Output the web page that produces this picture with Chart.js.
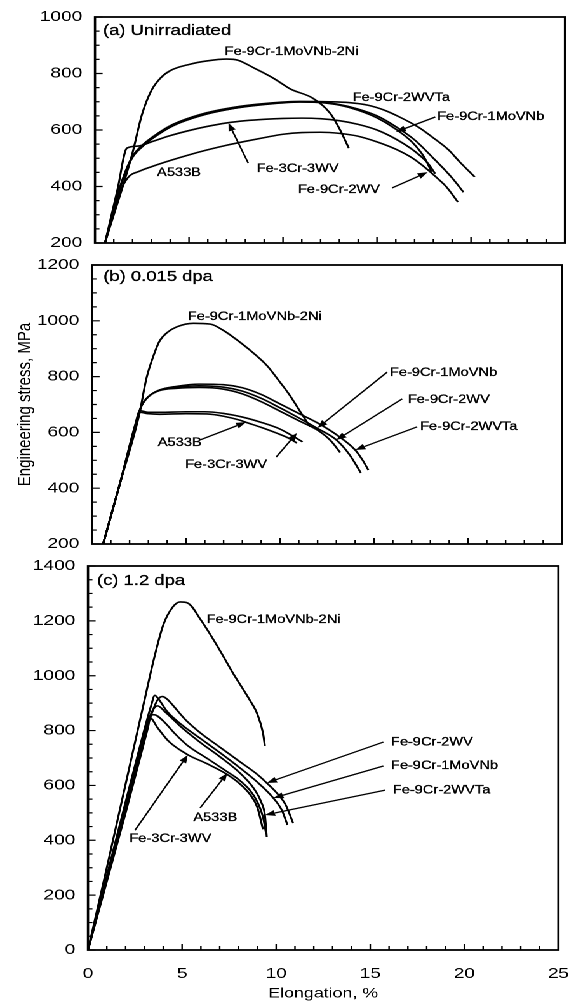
<!DOCTYPE html>
<html>
<head>
<meta charset="utf-8">
<script src="https://cdn.jsdelivr.net/npm/chart.js@4.4.0/dist/chart.umd.min.js"></script>
<style>
  html, body { margin: 0; padding: 0; background: #fff; overflow: hidden; }
  /* the scanned figure is stretched sideways, so the whole drawing is too */
  #wrap { position: absolute; left: 0; top: 0; width: 448px; height: 1002px;
          transform: scaleX(1.27009); transform-origin: 0 0; }
  canvas { position: absolute; left: 0; }
</style>
</head>
<body>
<div id="wrap">
  <canvas id="ca" width="448" height="255" style="top:0px"></canvas>
  <canvas id="cb" width="448" height="301" style="top:254px"></canvas>
  <canvas id="cc" width="448" height="447" style="top:555px"></canvas>
</div>
<script>
// ---- data: [elongation %, engineering stress MPa] ----

// (a) unirradiated
var a_Ni = [[0.53,200],[1.0,300],[1.5,405],[2.0,520],[2.5,655],[3.0,740],[3.5,785],[4.0,810],[5.0,832],[6.0,845],[7.0,851],[7.6,847],[8.5,818],[9.5,783],[10.4,745],[11.6,712],[12.5,660],[13.0,605],[13.5,536]];
var a_WVTa = [[0.53,200],[1.3,392],[1.95,502],[2.5,545],[3.1,577],[4.15,620],[5.6,655],[7.35,680],[9.1,694],[10.9,701],[12.5,700],[13.5,697],[14.5,688],[15.4,670],[16.2,646],[17.2,610],[18.0,572],[18.8,530],[19.4,487],[20.2,434]];
var a_1MoVNb = [[0.53,200],[1.3,390],[1.95,500],[2.5,542],[3.1,574],[4.15,616],[5.6,651],[7.35,676],[9.1,691],[10.9,699],[12,698],[13,690],[14,674],[15,650],[16,612],[17,565],[18,500],[19,430],[19.6,380]];
var a_2WV = [[0.53,200],[1.3,388],[1.95,498],[2.5,540],[3.1,572],[4.15,615],[5.6,650],[7.35,676],[9.1,692],[10.9,700],[12,697],[13,688],[14,670],[15,643],[16,603],[16.9,555],[17.5,505],[17.9,452]];
var a_3Cr3WV = [[0.53,200],[1.2,390],[1.7,536],[2.3,543],[3,558],[4,580],[5,598],[6,613],[7,625],[8,633],[9,638],[10,641],[11,642],[12,640],[13,633],[14,620],[15,600],[16,568],[17,525],[17.7,483],[18.1,445]];
var a_A533B = [[0.53,200],[1.3,375],[1.76,432],[2.4,455],[3,470],[4,492],[5,512],[6,530],[7,546],[8,560],[9,573],[10,585],[11,591],[12,592],[13,588],[14,578],[15,558],[16,532],[16.9,500],[17.6,465],[18.2,430],[18.7,398],[19.3,345]];

// (b) 0.015 dpa
var b_Ni = [[0.59,200],[1.5,420],[2.5,660],[2.9,795],[3.3,880],[3.6,928],[4.0,958],[4.5,978],[5.4,991],[6.3,988],[7.0,965],[7.5,942],[8.4,895],[9.3,840],[10.0,780],[10.5,735],[11.1,672],[11.6,620]];
var b_WVTa = [[0.59,200],[1.5,420],[2.3,620],[2.6,690],[3.0,728],[3.6,752],[4.5,765],[5.7,773],[7,771],[8,760],[9,736],[10,702],[11,668],[12,634],[13,592],[14,537],[14.4,500],[14.7,465]];
var b_2WV = [[0.59,200],[1.5,420],[2.3,620],[2.6,690],[3.0,728],[3.6,752],[4.5,762],[5.7,767],[7,762],[8,748],[9,722],[10,688],[11,652],[12,614],[13,573],[13.7,520],[14.3,455]];
var b_1MoVNb = [[0.59,200],[1.5,420],[2.3,620],[2.6,690],[3.0,728],[3.6,750],[4.5,758],[5.7,761],[7,755],[8,738],[9,710],[10,676],[11,642],[12,608],[12.7,570],[13.2,528]];
var b_3Cr3WV = [[0.59,200],[1.5,420],[2.3,628],[2.55,678],[3.0,672],[3.6,672],[5,674],[6,674],[7,668],[8,655],[9,636],[10,612],[10.5,594],[11.2,566]];
var b_A533B = [[0.59,200],[1.5,420],[2.3,625],[2.55,672],[3.0,667],[3.6,665],[5,667],[6.1,666],[7,658],[7.9,643],[8.2,636],[9,618],[9.8,598],[10.5,578],[10.9,562]];

// (c) 1.2 dpa
var c_Ni = [[0,0],[1,300],[2,605],[3,910],[3.5,1060],[4.0,1185],[4.5,1250],[4.9,1269],[5.3,1265],[6.0,1203],[6.9,1105],[7.7,1010],[8.6,911],[9.0,860],[9.3,791],[9.4,744]];
var c_2WV = [[0,0],[1,260],[2,520],[3,780],[3.4,865],[3.7,912],[3.95,924],[4.2,915],[4.6,885],[5.2,838],[6,790],[7,740],[8,690],[9,640],[9.5,609],[10,575],[10.5,530],[10.9,463]];
var c_1MoVNb = [[0,0],[1,270],[2,540],[3,805],[3.35,890],[3.55,928],[3.75,915],[4.2,870],[5,820],[6,770],[7,720],[8,668],[9,612],[9.85,554],[10.3,510],[10.6,456]];
var c_WVTa = [[0,0],[1,265],[2,530],[3,795],[3.45,875],[3.7,890],[4.1,868],[5,810],[6,755],[7,705],[8,650],[8.8,590],[9.2,540],[9.4,492],[9.5,412]];
var c_A533B = [[0,0],[1,255],[2,512],[3,772],[3.3,850],[3.5,858],[4.0,835],[4.6,790],[5.3,745],[6.3,700],[7.4,650],[8,622],[8.6,583],[9.0,540],[9.3,485],[9.45,430]];
var c_3Cr3WV = [[0,0],[1,250],[2,500],[3,762],[3.2,815],[3.3,846],[3.7,810],[4.3,760],[5.3,712],[6.3,680],[7.4,640],[8,610],[8.6,568],[9.0,520],[9.3,440]];

// tick labels
var xTicks = [0, 5, 10, 15, 20, 25];
var aTicks = [200, 400, 600, 800, 1000];
var bTicks = [200, 400, 600, 800, 1000, 1200];
var cTicks = [0, 200, 400, 600, 800, 1000, 1200, 1400];

// labels on the plots: [text, x, y]
var aLabels = [["(a) Unirradiated",0.43,950],["Fe-9Cr-1MoVNb-2Ni",6.9,876],["Fe-9Cr-2WVTa",13.7,713],["Fe-9Cr-1MoVNb",18.2,646],["Fe-3Cr-3WV",8.6,462],["A533B",3.3,448],["Fe-9Cr-2WV",10.8,388]];
var aArrows = [[18.1,646,16.0,593],[8.15,483,7.1,625],[15.8,395,17.7,451]];
var bLabels = [["(b) 0.015 dpa",0.6,1157],["Fe-9Cr-1MoVNb-2Ni",5.1,1014],["A533B",3.5,562],["Fe-3Cr-3WV",4.95,483],["Fe-9Cr-1MoVNb",15.85,813],["Fe-9Cr-2WV",16.8,716],["Fe-9Cr-2WVTa",17.45,620]];
var bArrows = [[5.75,573,8.2,637],[9.8,512,10.9,598],[15.7,816,12.0,616],[16.5,720,13.0,573],[17.3,620,14.0,537]];
var cLabels = [["(c) 1.2 dpa",0.48,1345],["Fe-9Cr-1MoVNb-2Ni",6.3,1203],["Fe-9Cr-2WV",16.1,758],["Fe-9Cr-1MoVNb",16.1,671],["Fe-9Cr-2WVTa",16.2,583],["A533B",5.6,481],["Fe-3Cr-3WV",2.2,405]];
var cArrows = [[15.7,758,9.5,609],[15.7,671,9.85,554],[15.8,583,9.4,492],[5.96,518,7.4,645],[2.5,437,5.3,711]];

var FONT = "'Liberation Sans', Arial, Helvetica, sans-serif";

function drawArrow(ctx, x1, y1, x2, y2) {
    var ang = Math.atan2(y2 - y1, x2 - x1);
    var len = 8, half = 3;
    var bx = x2 - len * Math.cos(ang), by = y2 - len * Math.sin(ang);
    ctx.beginPath();
    ctx.moveTo(x1, y1);
    ctx.lineTo(bx, by);
    ctx.stroke();
    ctx.beginPath();
    ctx.moveTo(x2, y2);
    ctx.lineTo(bx + half * Math.sin(ang), by - half * Math.cos(ang));
    ctx.lineTo(bx - half * Math.sin(ang), by + half * Math.cos(ang));
    ctx.closePath();
    ctx.fill();
}

// frame, inward ticks, curve labels and arrows
var framePlugin = {
    id: "frame",
    afterDatasetsDraw: function(chart, args, opts) {
        var ctx = chart.ctx, ca = chart.chartArea;
        var xs = chart.scales.x, ys = chart.scales.y;
        ctx.save();
        ctx.strokeStyle = "#000";
        ctx.fillStyle = "#000";
        ctx.lineWidth = 1.8;
        ctx.strokeRect(ca.left, ca.top, ca.right - ca.left, ca.bottom - ca.top);

        ctx.lineWidth = 1.2;
        ctx.beginPath();
        for (var v = 0; v <= 25; v++) {
            var px = xs.getPixelForValue(v);
            var l = (v % 5 === 0) ? 6 : 4;
            ctx.moveTo(px, ca.bottom);
            ctx.lineTo(px, ca.bottom - l);
        }
        for (var s = ys.min; s <= ys.max; s += 50) {
            var py = ys.getPixelForValue(s);
            var lw = (s % 200 === 0) ? 6 : 3.5;
            ctx.moveTo(ca.left, py);
            ctx.lineTo(ca.left + lw, py);
        }
        ctx.stroke();

        ctx.textBaseline = "middle";
        ctx.textAlign = "left";
        ctx.lineWidth = 0.3;
        (opts.labels || []).forEach(function(t, i) {
            ctx.font = (i === 0 ? "14.5px " : "11.5px ") + FONT;
            var tx = xs.getPixelForValue(t[1]), ty = ys.getPixelForValue(t[2]);
            ctx.fillText(t[0], tx, ty);
            ctx.strokeText(t[0], tx, ty);
        });

        ctx.lineWidth = 1.3;
        (opts.arrows || []).forEach(function(a) {
            drawArrow(ctx, xs.getPixelForValue(a[0]), ys.getPixelForValue(a[1]),
                      xs.getPixelForValue(a[2]), ys.getPixelForValue(a[3]));
        });
        ctx.restore();
    }
};

function toXY(arr) {
    return arr.map(function(p) { return { x: p[0], y: p[1] }; });
}

function plain(v) { return String(v); }

function makePanel(id, series, yMin, yMax, yTicks, box, extra) {
    var canvas = document.getElementById(id);
    var W = canvas.width, H = canvas.height;
    var bottomAxis = extra.showX ? 52 : 0;
    return new Chart(canvas, {
        type: "line",
        data: {
            datasets: series.map(function(s) {
                return {
                    data: toXY(s),
                    borderColor: "#000",
                    borderWidth: 1.6,
                    pointRadius: 0,
                    fill: false,
                    cubicInterpolationMode: "monotone"
                };
            })
        },
        options: {
            responsive: false,
            devicePixelRatio: 2,
            animation: false,
            events: [],
            layout: {
                autoPadding: false,
                padding: { left: 0, top: box.top, right: W - box.right, bottom: H - box.bottom - bottomAxis }
            },
            plugins: {
                legend: { display: false },
                tooltip: { enabled: false },
                frame: { labels: extra.labels, arrows: extra.arrows }
            },
            scales: {
                x: {
                    type: "linear",
                    min: 0,
                    max: 25,
                    afterBuildTicks: function(sc) { sc.ticks = xTicks.map(function(v) { return { value: v }; }); },
                    afterFit: function(sc) { sc.height = bottomAxis; },
                    // hidden tick marks only push the labels away from the axis
                    grid: { display: false, drawTicks: true, tickLength: 15 },
                    border: { display: false },
                    ticks: {
                        display: !!extra.showX,
                        padding: 0,
                        color: "#000",
                        callback: plain,
                        font: { family: FONT, size: 15 }
                    },
                    title: {
                        display: !!extra.showX,
                        text: "Elongation, %",
                        color: "#000",
                        padding: { top: 0, bottom: 0 },
                        font: { family: FONT, size: 14 }
                    }
                },
                y: {
                    min: yMin,
                    max: yMax,
                    afterBuildTicks: function(sc) { sc.ticks = yTicks.map(function(v) { return { value: v }; }); },
                    afterFit: function(sc) { sc.width = box.left; },
                    grid: { display: false, drawTicks: true, tickLength: 10 },
                    border: { display: false },
                    ticks: {
                        padding: 0,
                        color: "#000",
                        callback: plain,
                        font: { family: FONT, size: 15 }
                    },
                    title: {
                        display: !!extra.yTitle,
                        text: "Engineering stress, MPa",
                        color: "#000",
                        padding: { top: 11, bottom: 0 },
                        font: { family: FONT, size: 15 }
                    }
                }
            }
        },
        plugins: [framePlugin]
    });
}

var S = 569 / 448;
makePanel("ca", [a_Ni, a_WVTa, a_1MoVNb, a_2WV, a_3Cr3WV, a_A533B], 200, 1000, aTicks,
    { left: 95 / S, right: 565 / S, top: 17, bottom: 243 },
    { labels: aLabels, arrows: aArrows });
makePanel("cb", [b_Ni, b_WVTa, b_2WV, b_1MoVNb, b_3Cr3WV, b_A533B], 200, 1200, bTicks,
    { left: 92 / S, right: 562 / S, top: 11, bottom: 290 },
    { labels: bLabels, arrows: bArrows, yTitle: true });
makePanel("cc", [c_Ni, c_2WV, c_1MoVNb, c_WVTa, c_A533B, c_3Cr3WV], 0, 1400, cTicks,
    { left: 88 / S, right: 559 / S, top: 11, bottom: 395 },
    { labels: cLabels, arrows: cArrows, showX: true });
</script>
</body>
</html>
